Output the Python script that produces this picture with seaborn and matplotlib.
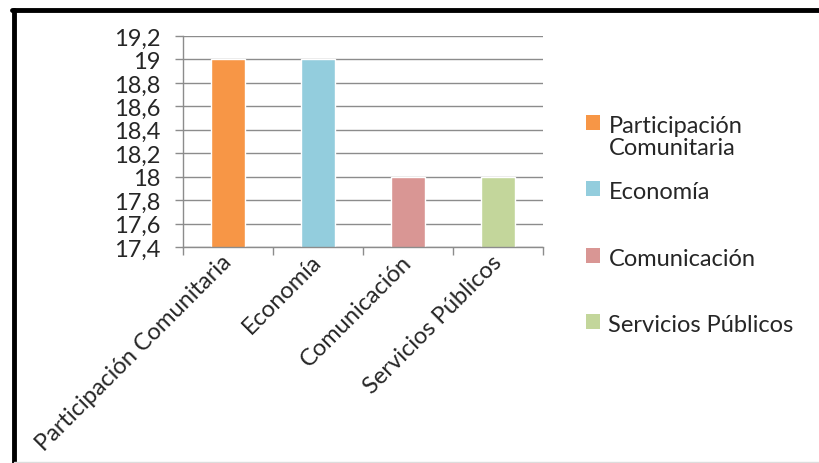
import matplotlib
matplotlib.use("Agg")
import matplotlib.pyplot as plt
import seaborn as sns
from matplotlib.patches import Patch
from matplotlib.lines import Line2D
from matplotlib.ticker import FuncFormatter, MultipleLocator, FixedLocator

# === Data ===
categories = ["Participación Comunitaria", "Economía", "Comunicación", "Servicios Públicos"]
values = [19, 19, 18, 18]
# every legend entry takes two lines, as in the Excel legend
legend_labels = ["Participación\nComunitaria", "Economía\n", "Comunicación\n", "Servicios Públicos\n"]
colors = ["#F79646", "#93CDDD", "#D99694", "#C3D69B"]

# === Style ===
sns.set_style("white")
plt.rcParams["font.family"] = ["Lato", "DejaVu Sans"]
grid_gray = "#8C8C8C"
fs = 17

fig = plt.figure(figsize=(8.2, 4.64), dpi=100)
ax = fig.add_axes([0.2232, 0.4655, 0.439, 0.4547])

sns.barplot(x=categories, y=values, hue=categories, palette=colors,
            width=0.38, legend=False, ax=ax, saturation=1)

ax.set_ylim(17.4, 19.2)
ax.set_xlim(-0.5, len(categories) - 0.5)
ax.yaxis.set_major_locator(MultipleLocator(0.2))
ax.yaxis.set_major_formatter(FuncFormatter(lambda v, p: f"{v:.1f}".rstrip("0").rstrip(".").replace(".", ",")))
ax.yaxis.grid(True, color=grid_gray, linewidth=1)
ax.set_axisbelow(True)

# category ticks: labels at centres, tick marks between categories
ax.xaxis.set_minor_locator(FixedLocator([i - 0.5 for i in range(len(categories) + 1)]))
ax.tick_params(axis="x", which="major", length=0, pad=8)
ax.tick_params(axis="x", which="minor", length=6, width=1, color=grid_gray, direction="out", bottom=True)
ax.tick_params(axis="y", length=6, width=1, color=grid_gray, direction="out", left=True, labelsize=fs, pad=10)
plt.setp(ax.get_xticklabels(), rotation=45, ha="right", va="center", rotation_mode="anchor", fontsize=fs)
ax.set_xlabel("")
ax.set_ylabel("")

for side in ["top", "right"]:
    ax.spines[side].set_visible(False)
for side in ["left", "bottom"]:
    ax.spines[side].set_color(grid_gray)
    ax.spines[side].set_linewidth(1)

# === Legend ===
handles = [Patch(facecolor=c, edgecolor="none") for c in colors]
leg = fig.legend(handles, legend_labels, loc="upper left", bbox_to_anchor=(0.7146, 0.7505),
                 frameon=False, fontsize=fs, handlelength=0.6, handleheight=0.6,
                 handletextpad=0.35, labelspacing=1.0, borderpad=0, borderaxespad=0)
# squares sit next to the first line of each entry
for col in leg._legend_handle_box.get_children():
    for row in col.get_children():
        row.align = "top"
for t in leg.get_texts():
    t.set_linespacing(1.05)

# === Frame ===
fig.add_artist(Line2D([12 / 820, 1], [1 - 11 / 464, 1 - 11 / 464], transform=fig.transFigure, color="black", linewidth=3.5))
fig.add_artist(Line2D([14 / 820, 14 / 820], [0, 1 - 11 / 464], transform=fig.transFigure, color="black", linewidth=3.5))
fig.add_artist(Line2D([14 / 820, 1], [1 / 464, 1 / 464], transform=fig.transFigure, color="#DDDDDD", linewidth=1))

fig.savefig("out.png", dpi=100)
